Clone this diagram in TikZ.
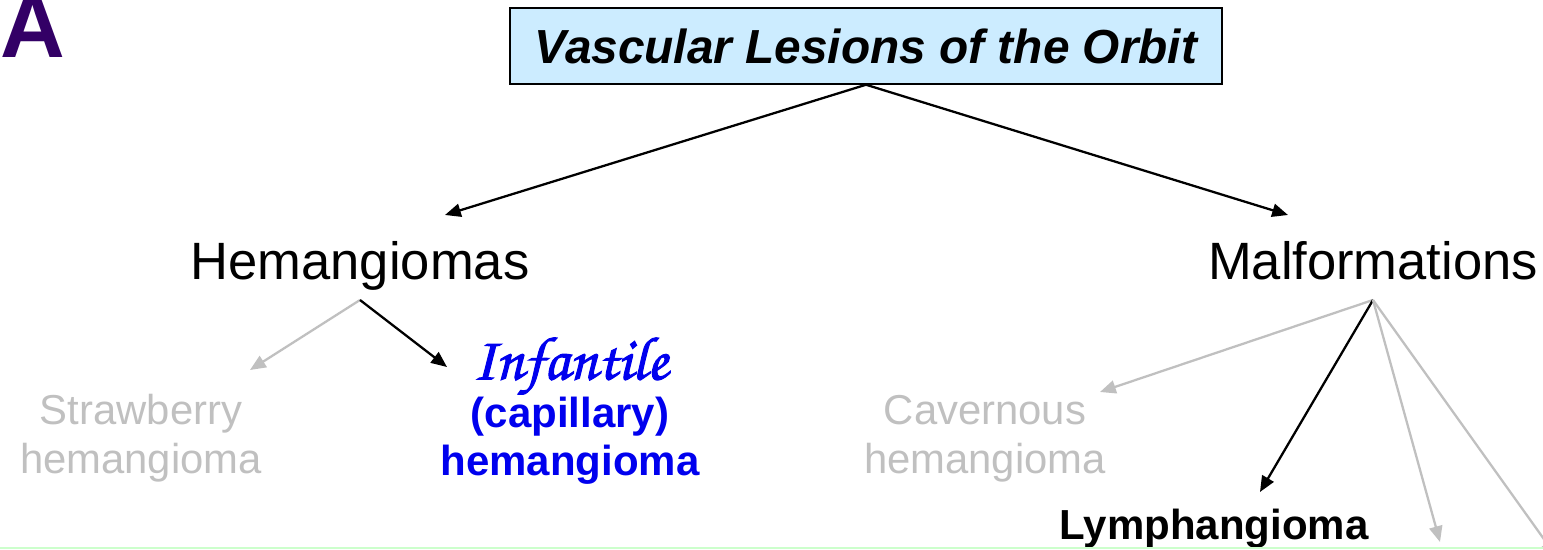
\documentclass[tikz,border=0pt]{standalone}
\usepackage{fontspec}
\setmainfont{Liberation Sans}
\newfontfamily\handfont[AutoFakeBold=1.6]{texgyrechorus-mediumitalic.otf}
\usetikzlibrary{arrows.meta}

\definecolor{titlefill}{HTML}{CCECFF}
\definecolor{dimgray}{HTML}{C0C0C0}
\definecolor{pickblue}{HTML}{0000EE}
\definecolor{panelpurple}{HTML}{330066}
\definecolor{rulegreen}{HTML}{CCFFCC}

\begin{document}
\begin{tikzpicture}[
    x=0.02cm, y=-0.02cm,
    title/.style={draw, line width=0.85pt, fill=titlefill, inner sep=0pt, minimum width=14.24cm, minimum height=1.52cm, font=\fontsize{27.2}{30}\selectfont\bfseries\itshape},
    head/.style={inner sep=0pt, anchor=base, font=\fontsize{29.9}{34}\selectfont},
    faded/.style={inner sep=0pt, anchor=base, align=center, text=dimgray, font=\fontsize{23.8}{28.35}\selectfont},
    pick/.style={inner sep=0pt, anchor=base, align=center, font=\fontsize{23.9}{27.5}\selectfont\bfseries},
    arrow/.style={-{Triangle[length=9pt, width=7.5pt]}, line width=1.3pt},
    dimarrow/.style={arrow, draw=dimgray}
  ]
    \useasboundingbox (0,0) rectangle (1543,550);

    \node[inner sep=0pt, anchor=base west, text=panelpurple, font=\fontsize{51}{55}\selectfont\bfseries] (lbl) at (0,58) {A};
    \node[title] (t) at (866,46) {Vascular Lesions of the Orbit};

    \node[head] (h) at (360,280) {Hemangiomas};
    \node[head] (m) at (1373,280) {Malformations};

    \node[faded] (sh) at (141,474) {Strawberry\\hemangioma};
    \node[pick, text=pickblue] (ih) at (570,476) {{\handfont\fontsize{35}{31}\selectfont Infantile}\\(capillary)\\hemangioma};
    \node[faded] (ch) at (985,474) {Cavernous\\hemangioma};
    \node[pick] (ly) at (1214,540) {Lymphangioma};

    % fork points and arrow ends
    \coordinate (hf) at (360,300);
    \coordinate (mf) at (1373,300);
    \coordinate (hin) at (445,215);
    \coordinate (min) at (1288,215);
    \coordinate (shin) at (250,370);
    \coordinate (ihin) at (447,367);
    \coordinate (chin) at (1100,392);
    \coordinate (lyin) at (1260,492);
    \coordinate (x1) at (1440,542);
    \coordinate (x2) at (1556,556);

    \draw[arrow] (t.south) -- (hin);
    \draw[arrow] (t.south) -- (min);
    \draw[dimarrow] (hf) -- (shin);
    \draw[arrow] (hf) -- (ihin);
    \draw[dimarrow] (mf) -- (chin);
    \draw[arrow] (mf) -- (lyin);
    \draw[dimarrow] (mf) -- (x1);
    \draw[dimarrow] (mf) -- (x2);

    \draw[rulegreen, line width=1.2pt] (0,548) -- (1543,548);
  \end{tikzpicture}
\end{document}
